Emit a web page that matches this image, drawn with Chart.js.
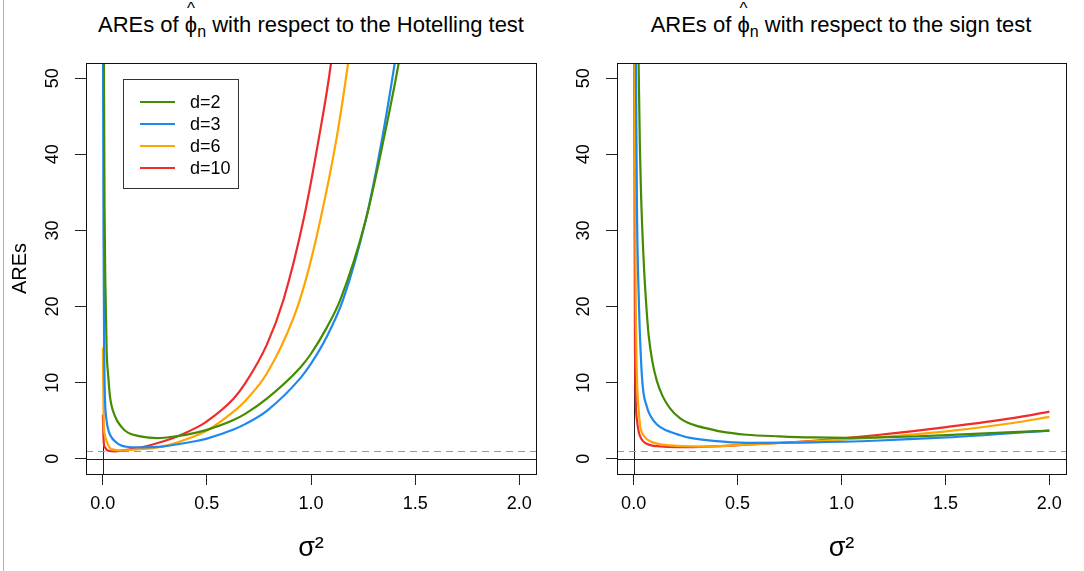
<!DOCTYPE html>
<html>
<head>
<meta charset="utf-8">
<script src="https://cdn.jsdelivr.net/npm/chart.js@4"></script>
<style>
  html, body { margin: 0; padding: 0; background: #fff; }
  body { width: 1084px; height: 571px; position: relative; overflow: hidden;
         font-family: 'Liberation Sans', Arial, Helvetica, sans-serif; color: #000; }
  canvas { position: absolute; top: 0; }
  #leftChart { left: 0; }
  #rightChart { left: 542px; }
  .edge { position: absolute; left: 3px; top: 0; width: 1px; height: 571px; background: #b0b0b0; }
  .ttl { position: absolute; top: 12px; width: 542px; text-align: center; font-size: 22px; line-height: 26px; white-space: nowrap; }
  .hat { position: relative; display: inline-block; }
  .hat::before { content: '^'; position: absolute; left: 0; right: 0; top: -16px; text-align: center; font-size: 17px; }
  .ttl sub { font-size: 16px; vertical-align: baseline; position: relative; top: 5px; }
  .legend { position: absolute; left: 123px; top: 79px; width: 114px; height: 108px; border: 1px solid #333; }
  .legend .row { position: absolute; left: 0; height: 22px; }
  .legend .swatch { position: absolute; left: 16px; top: 10px; width: 35px; height: 2px; }
  .legend .lbl { position: absolute; left: 66px; top: 0; font-size: 18px; line-height: 22px; }
</style>
</head>
<body>
<div class="edge"></div>
<div class="ttl" style="left:40px;">AREs of <span class="hat">ϕ</span><sub>n</sub> with respect to the Hotelling test</div>
<div class="ttl" style="left:570px;">AREs of <span class="hat">ϕ</span><sub>n</sub> with respect to the sign test</div>
<canvas id="leftChart" width="542" height="571"></canvas>
<canvas id="rightChart" width="542" height="571"></canvas>
<div class="legend" id="legend"></div>

<script>
// ── Series labels & colours ──
const LABELS = ['d=2', 'd=3', 'd=6', 'd=10'];
const COLORS = ['#458B00', '#1E88F0', '#FFA500', '#EE2C2C'];

// ── Axis ticks ──
const X_TICKS = [0, 0.5, 1, 1.5, 2];
const Y_TICKS = [0, 10, 20, 30, 40, 50];

// ── Left panel: AREs vs Hotelling test (sigma^2, ARE) ──
const HOT_X_D2  = [0.006, 0.009, 0.013, 0.019, 0.027, 0.035, 0.059, 0.09, 0.123, 0.18, 0.26, 0.35, 0.444, 0.5, 0.628, 0.684, 0.788, 0.949, 1.0, 1.077, 1.141, 1.263, 1.349, 1.421, 1.43];
const HOT_Y_D2  = [53, 33, 23, 14.3, 10.8, 8.2, 5.6, 4.2, 3.4, 2.95, 2.72, 2.95, 3.4, 3.8, 5.1, 5.9, 7.9, 12.0, 13.8, 17.3, 20.9, 31.4, 42, 52, 53.5];
const HOT_X_D3  = [0.002, 0.004, 0.007, 0.011, 0.018, 0.027, 0.059, 0.123, 0.2, 0.284, 0.444, 0.5, 0.628, 0.684, 0.788, 0.949, 1.0, 1.077, 1.154, 1.263, 1.341, 1.402, 1.41];
const HOT_Y_D3  = [53, 30, 15, 8, 5.2, 3.8, 2.3, 1.55, 1.5, 1.6, 2.3, 2.65, 3.85, 4.55, 6.3, 10.6, 12.5, 16.1, 20.9, 31.4, 42, 52, 53.5];
const HOT_X_D6  = [0.001, 0.005, 0.01, 0.019, 0.043, 0.09, 0.15, 0.284, 0.444, 0.5, 0.628, 0.684, 0.788, 0.916, 0.977, 1.045, 1.122, 1.178, 1.185];
const HOT_Y_D6  = [14.6, 5, 3.2, 2.3, 1.27, 1.1, 1.2, 1.6, 3.0, 3.7, 6.2, 7.6, 11.2, 18.5, 23.7, 31.4, 42, 52, 53.5];
const HOT_X_D10 = [0.001, 0.005, 0.011, 0.027, 0.059, 0.1, 0.203, 0.28, 0.364, 0.468, 0.5, 0.628, 0.684, 0.788, 0.868, 0.964, 1.037, 1.096, 1.102];
const HOT_Y_D10 = [5.8, 2.2, 1.5, 1.05, 0.97, 1.1, 1.6, 2.2, 3.0, 4.36, 4.9, 7.9, 9.9, 15.0, 20.9, 31.4, 42, 52, 53.5];

// ── Right panel: AREs vs sign test ──
const SGN_X_D2  = [0.022, 0.024, 0.03, 0.036, 0.048, 0.06, 0.072, 0.09, 0.112, 0.14, 0.176, 0.224, 0.256, 0.3, 0.384, 0.416, 0.544, 0.7, 0.864, 1.024, 1.184, 1.344, 1.504, 1.664, 1.824, 2.0];
const SGN_Y_D2  = [56, 52, 41, 34.5, 26.2, 20.5, 16.3, 12.8, 10.2, 8.2, 6.6, 5.3, 4.8, 4.35, 3.8, 3.6, 3.16, 2.95, 2.8, 2.75, 2.8, 2.93, 3.1, 3.3, 3.5, 3.7];
const SGN_X_D3  = [0.009, 0.011, 0.016, 0.024, 0.04, 0.064, 0.08, 0.112, 0.16, 0.224, 0.272, 0.384, 0.544, 0.864, 1.184, 1.504, 2.0];
const SGN_Y_D3  = [58, 52, 33, 21.8, 10.8, 6.8, 5.7, 4.5, 3.7, 3.1, 2.75, 2.35, 2.1, 2.15, 2.4, 2.8, 3.7];
const SGN_X_D6  = [0.005, 0.01, 0.016, 0.024, 0.032, 0.05, 0.08, 0.176, 0.336, 0.544, 0.864, 1.184, 1.504, 1.824, 2.0];
const SGN_Y_D6  = [53, 22, 10.8, 6.5, 4.25, 3.0, 2.3, 1.75, 1.6, 1.85, 2.3, 2.85, 3.6, 4.7, 5.5];
const SGN_X_D10 = [0.003, 0.006, 0.01, 0.016, 0.025, 0.04, 0.06, 0.096, 0.256, 0.544, 0.864, 1.184, 1.504, 1.824, 2.0];
const SGN_Y_D10 = [53, 18, 8, 5.1, 3.5, 2.5, 2.0, 1.7, 1.54, 1.84, 2.37, 3.16, 4.17, 5.35, 6.2];

const FONT = "'Liberation Sans', Arial, Helvetica, sans-serif";
Chart.defaults.font.family = FONT;
Chart.defaults.color = '#000';

const toPoints = (xs, ys) => xs.map((x, i) => ({ x, y: ys[i] }));

// ── abline(h=0), abline(v=0), abline(h=1, lty=2) + box() ──
const refLines = {
  id: 'refLines',
  beforeDatasetsDraw(chart) {
    const { ctx, chartArea: a, scales: { x, y } } = chart;
    ctx.save();
    ctx.lineWidth = 1;
    ctx.strokeStyle = '#222';
    ctx.beginPath();
    const y0 = Math.round(y.getPixelForValue(0)) + 0.5;
    ctx.moveTo(a.left, y0); ctx.lineTo(a.right, y0);
    const x0 = Math.round(x.getPixelForValue(0)) + 0.5;
    ctx.moveTo(x0, a.top); ctx.lineTo(x0, a.bottom);
    ctx.stroke();
    ctx.strokeStyle = '#999';
    ctx.setLineDash([7, 5]);
    ctx.beginPath();
    const y1 = Math.round(y.getPixelForValue(1)) + 0.5;
    ctx.moveTo(a.left, y1); ctx.lineTo(a.right, y1);
    ctx.stroke();
    ctx.restore();
  },
  afterDraw(chart) {
    const { ctx, chartArea: a } = chart;
    ctx.save();
    ctx.strokeStyle = '#111';
    ctx.lineWidth = 1;
    ctx.strokeRect(Math.round(a.left) + 0.5, Math.round(a.top) + 0.5,
                   Math.round(a.right - a.left), Math.round(a.bottom - a.top));
    ctx.restore();
  }
};

function buildPanel(id, series, opts) {
  const datasets = series.map((s, i) => ({
    label: LABELS[i],
    data: toPoints(s[0], s[1]),
    borderColor: COLORS[i],
    backgroundColor: COLORS[i],
    borderWidth: 2.2,
    pointRadius: 0,
    cubicInterpolationMode: 'monotone',
    fill: false,
  }));

  return new Chart(document.getElementById(id), {
    type: 'line',
    data: { datasets },
    plugins: [refLines],
    options: {
      responsive: false,
      animation: false,
      layout: { padding: { top: 63, right: opts.padRight, bottom: 0, left: 0 } },
      plugins: { legend: { display: false }, tooltip: { enabled: false } },
      scales: {
        x: {
          type: 'linear', min: -0.08, max: 2.08,
          afterBuildTicks: s => { s.ticks = X_TICKS.map(v => ({ value: v })); },
          afterFit: s => { s.height = 97; },
          grid: { drawOnChartArea: false, tickLength: 11, color: '#222' },
          border: { display: false },
          ticks: { autoSkip: false, maxRotation: 0, padding: 8, color: '#000',
                   font: { size: 18 }, callback: v => v.toFixed(1) },
          title: { display: true, text: 'σ²', color: '#000', font: { size: 27 }, padding: { bottom: 6 } }
        },
        y: {
          type: 'linear', min: -2, max: 52,
          afterBuildTicks: s => { s.ticks = Y_TICKS.map(v => ({ value: v })); },
          afterFit: s => { s.width = opts.yWidth; },
          grid: { drawOnChartArea: false, tickLength: 11, color: '#222' },
          border: { display: false },
          ticks: { autoSkip: false, minRotation: 90, maxRotation: 90, crossAlign: 'center',
                   padding: 12, color: '#000', font: { size: 18 } },
          title: { display: opts.yTitle, text: 'AREs', color: '#000', font: { size: 20 }, padding: { top: 8 } }
        }
      }
    }
  });
}

buildPanel('leftChart', [
  [HOT_X_D2, HOT_Y_D2], [HOT_X_D3, HOT_Y_D3], [HOT_X_D6, HOT_Y_D6], [HOT_X_D10, HOT_Y_D10]
], { padRight: 6, yWidth: 86, yTitle: true });

buildPanel('rightChart', [
  [SGN_X_D2, SGN_Y_D2], [SGN_X_D3, SGN_Y_D3], [SGN_X_D6, SGN_Y_D6], [SGN_X_D10, SGN_Y_D10]
], { padRight: 18, yWidth: 75, yTitle: false });

// ── Legend (left panel only) ──
const legendEl = document.getElementById('legend');
LABELS.forEach((lab, i) => {
  const row = document.createElement('div');
  row.className = 'row';
  row.style.top = (11 + i * 22) + 'px';
  row.innerHTML = '<div class="swatch" style="background:' + COLORS[i] + '"></div><div class="lbl">' + lab + '</div>';
  legendEl.appendChild(row);
});
</script>
</body>
</html>
